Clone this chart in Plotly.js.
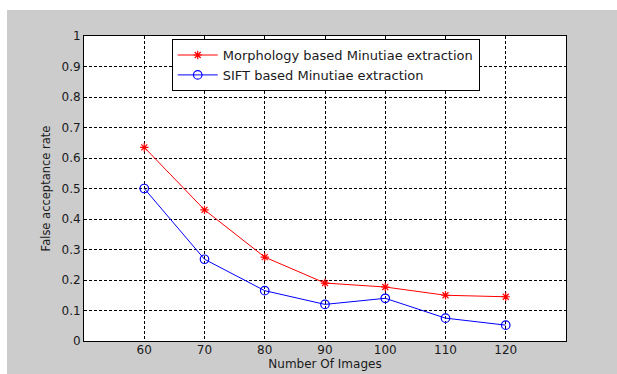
<!DOCTYPE html>
<html>
<head>
<meta charset="utf-8">
<script src="https://cdn.plot.ly/plotly-3.0.1.min.js"></script>
<style>
  html, body { margin: 0; padding: 0; background: #ffffff; width: 617px; height: 374px; overflow: hidden; }
  #chart { position: absolute; left: 7px; top: 10px; width: 610px; height: 364px; }
</style>
</head>
<body>
<div id="chart"></div>
<script>
const numImages = [60, 70, 80, 90, 100, 110, 120];
const morphologyFAR = [0.635, 0.43, 0.275, 0.19, 0.177, 0.15, 0.145];
const siftFAR = [0.5, 0.268, 0.165, 0.12, 0.14, 0.075, 0.052];
const yTicks = [0, 0.1, 0.2, 0.3, 0.4, 0.5, 0.6, 0.7, 0.8, 0.9, 1];
const seriesNames = ["Morphology based Minutiae extraction", "SIFT based Minutiae extraction"];

const traces = [
  {
    x: numImages, y: morphologyFAR, name: seriesNames[0],
    type: "scatter", mode: "lines+markers",
    line: { color: "#ff0000", width: 1 },
    marker: { symbol: "asterisk-open", size: 7, color: "#ff0000", line: { color: "#ff0000", width: 1.2 } }
  },
  {
    x: numImages, y: siftFAR, name: seriesNames[1],
    type: "scatter", mode: "lines+markers",
    line: { color: "#0000ff", width: 1 },
    marker: { symbol: "circle-open", size: 8.5, color: "#0000ff", line: { color: "#0000ff", width: 1.2 } }
  }
];

const tickFont = { family: "DejaVu Sans", size: 12, color: "#1a1a1a" };

const layout = {
  width: 610, height: 364,
  paper_bgcolor: "#cccccc",
  plot_bgcolor: "#ffffff",
  margin: { l: 77, r: 51, t: 26, b: 33, pad: 0 },
  showlegend: true,
  legend: {
    x: 0.182, y: 0.99, xanchor: "left", yanchor: "top",
    bgcolor: "#ffffff", bordercolor: "#000000", borderwidth: 1,
    font: { family: "DejaVu Sans", size: 13, color: "#1a1a1a" },
    itemwidth: 40
  },
  xaxis: {
    range: [50, 130],
    tickvals: numImages,
    ticktext: numImages.map(String),
    tickfont: tickFont,
    ticks: "",
    ticklabelstandoff: -2,
    showline: true, linecolor: "#000000", linewidth: 1, mirror: true,
    showgrid: true, gridcolor: "#000000", gridwidth: 1, griddash: "3px,2px",
    zeroline: false,
    automargin: false,
    title: { text: "Number Of Images", font: { family: "DejaVu Sans", size: 12, color: "#1a1a1a" }, standoff: 3 }
  },
  yaxis: {
    range: [0, 1],
    tickvals: yTicks,
    tickfont: tickFont,
    ticks: "",
    showline: true, linecolor: "#000000", linewidth: 1, mirror: true,
    showgrid: true, gridcolor: "#000000", gridwidth: 1, griddash: "3px,2px",
    zeroline: false,
    automargin: false,
    title: { text: "False acceptance rate", font: { family: "DejaVu Sans", size: 11.5, color: "#1a1a1a" }, standoff: 8 }
  }
};

Plotly.newPlot("chart", traces, layout, { displayModeBar: false, staticPlot: true });
</script>
</body>
</html>
